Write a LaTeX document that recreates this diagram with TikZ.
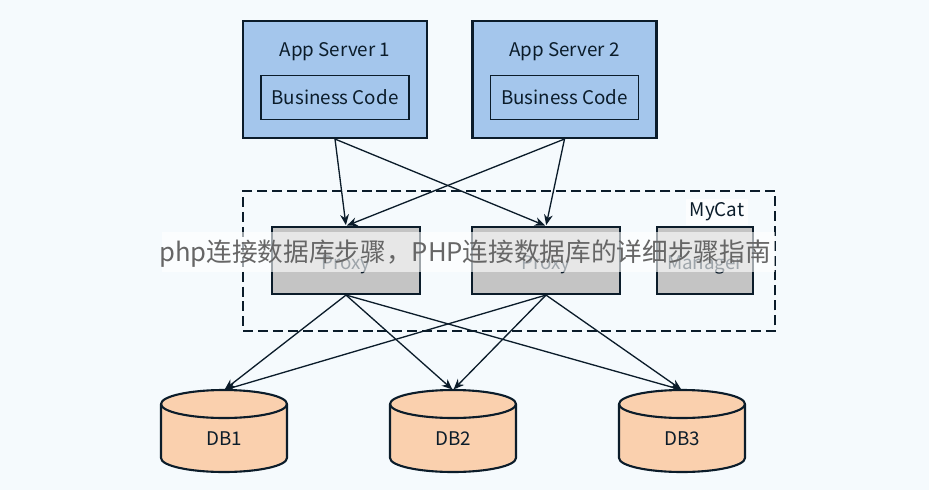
\documentclass[tikz,border=0pt]{standalone}
\usepackage{fontspec}
\setmainfont{Noto Sans CJK SC}
\usetikzlibrary{arrows.meta}
\definecolor{inkline}{HTML}{0B1C2A}
\definecolor{pagebg}{HTML}{F5FAFD}
\definecolor{appblue}{HTML}{A4C6EC}
\definecolor{proxygray}{HTML}{C4C4C4}
\definecolor{dborange}{HTML}{FAD0AE}

\begin{document}
\begin{tikzpicture}[
x=0.02cm,y=-0.02cm,
font=\fontsize{10.7pt}{13pt}\selectfont,
every node/.style={text=inkline},
link/.style={-{Stealth[length=6pt,width=5pt]},line width=0.75pt,draw=inkline,shorten >=0.5pt},
appbox/.style={draw=inkline,line width=1.2pt,fill=appblue,minimum width=3.68cm,minimum height=2.34cm,inner sep=0pt},
codebox/.style={draw=inkline,line width=0.8pt,minimum width=2.96cm,minimum height=0.88cm,inner sep=0pt},
proxybox/.style={draw=inkline,line width=1.2pt,fill=proxygray,minimum width=2.96cm,minimum height=1.34cm,inner sep=0pt},
dbdrum/.style={draw=inkline,line width=1.2pt,fill=dborange,line join=round},
dbnode/.style={minimum width=2.52cm,minimum height=1.64cm,inner sep=0pt,outer sep=0pt}]
    % Page and its margins
    \fill [pagebg] (0,0) rectangle (929,490);
    \useasboundingbox (0,0) rectangle (929,490);

    % App servers
    \node [appbox] (app1) at (335,79.5) {};
    \node [appbox] (app2) at (564.5,79.5) {};
    \node (app1title) at (335,52) {App Server 1};
    \node (app2title) at (564.5,52) {App Server 2};
    \node [codebox] (code1) at (335,97.5) {Business Code};
    \node [codebox] (code2) at (564.5,97.5) {Business Code};

    % MyCat group
    \node [draw=inkline,dash pattern=on 5.7pt off 2.8pt,line width=0.9pt,minimum width=10.64cm,minimum height=2.8cm,inner sep=0pt]
        (mycat) at (509,261) {};
    \node [fill=white,fill opacity=0.7,text opacity=1,inner sep=2pt] (mycatlabel) at (717,212) {MyCat};
    \node [proxybox] (proxy1) at (346,260.5) {};
    \node [proxybox] (proxy2) at (546,260.5) {};
    \node [proxybox,minimum width=1.92cm] (manager) at (705,260.5) {};
    \node (proxy1label) at (346,265) {Proxy};
    \node (proxy2label) at (546,265) {Proxy};
    \node (managerlabel) at (705,265) {Manager};

    % Databases
    \foreach \d/\x/\t in {db1/224/DB1,db2/453/DB2,db3/682/DB3} {
        \draw [dbdrum] (\x-63,404) -- (\x-63,458)
            arc [start angle=180,end angle=360,x radius=1.26cm,y radius=0.28cm]
            -- (\x+63,404);
        \draw [dbdrum] (\x,404) ellipse [x radius=1.26cm,y radius=0.28cm];
        \node [dbnode] (\d) at (\x,431) {};
        \node (\d label) at (\x,439) {\t};
    }

    % Links
    \draw [link] (app1.south) -- (proxy1.north);
    \draw [link] (app1.south) -- (proxy2.north);
    \draw [link] (app2.south) -- (proxy1.north);
    \draw [link] (app2.south) -- (proxy2.north);
    \foreach \p in {proxy1,proxy2}
        \foreach \d in {db1,db2,db3}
            \draw [link] (\p.south) -- (\d.north);

    % Caption band over the picture
    \fill [white,opacity=0.6] (162,232) rectangle (775,272);
    \node [text=black!60,font=\fontsize{14.6pt}{16pt}\selectfont,inner sep=0pt] (caption) at (465,254)
        {php连接数据库步骤，PHP连接数据库的详细步骤指南};
\end{tikzpicture}
\end{document}
